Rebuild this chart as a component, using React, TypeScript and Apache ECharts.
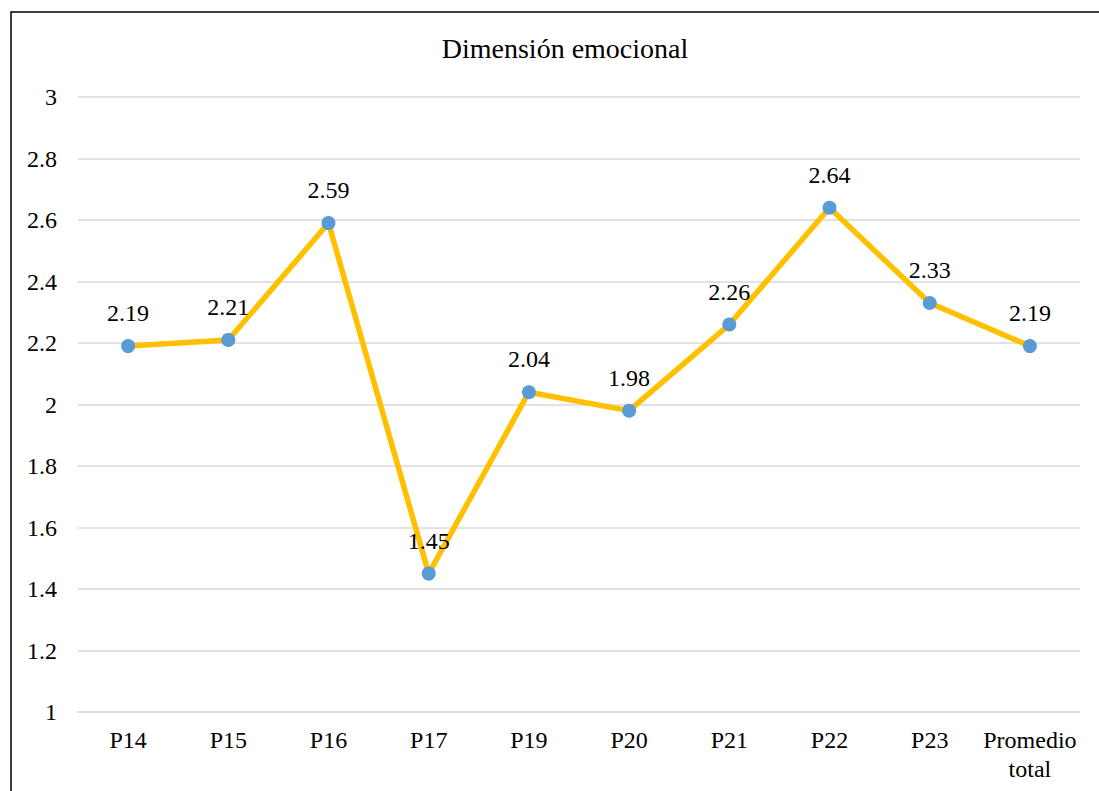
import React, { useEffect, useRef } from "react";
import * as echarts from "echarts";

const categories = ["P14", "P15", "P16", "P17", "P19", "P20", "P21", "P22", "P23", "Promedio\ntotal"];
const values = [2.19, 2.21, 2.59, 1.45, 2.04, 1.98, 2.26, 2.64, 2.33, 2.19];
const titleText = "Dimensión emocional";

export default function App() {
  const ref = useRef<HTMLDivElement>(null);
  useEffect(() => {
    if (!ref.current) return;
    const chart = echarts.init(ref.current, null, { renderer: "svg" });
    const font = "Liberation Serif";
    chart.setOption({
      animation: false,
      backgroundColor: "#ffffff",
      textStyle: { fontFamily: font },
      title: {
        text: titleText,
        left: 560,
        top: 29,
        textAlign: "center",
        textStyle: { fontFamily: font, fontSize: 28, fontWeight: "normal", color: "#000" },
      },
      graphic: [
        {
          type: "rect",
          shape: { x: 11, y: 12, width: 1100, height: 800 },
          style: { fill: "none", stroke: "#000", lineWidth: 1.5 },
          z: 100,
        },
      ],
      grid: { left: 78, right: 19, top: 97, bottom: 79, containLabel: false },
      xAxis: {
        type: "category",
        data: categories,
        boundaryGap: true,
        axisLine: { show: true, lineStyle: { color: "#D9D9D9", width: 1.5 } },
        axisTick: { show: false },
        axisLabel: {
          fontFamily: font,
          fontSize: 24,
          color: "#000",
          margin: 13,
          lineHeight: 29,
          interval: 0,
        },
      },
      yAxis: {
        type: "value",
        min: 1,
        max: 3,
        interval: 0.2,
        axisLine: { show: false },
        axisTick: { show: false },
        splitLine: { lineStyle: { color: "#D9D9D9", width: 1.5 } },
        axisLabel: {
          fontFamily: font,
          fontSize: 24,
          color: "#000",
          margin: 21,
          formatter: (v: number) => String(Math.round(v * 10) / 10),
        },
      },
      series: [
        {
          type: "line",
          data: values,
          lineStyle: { color: "#FFC000", width: 5.5 },
          itemStyle: { color: "#5B9BD5" },
          symbol: "circle",
          symbolSize: 14,
          label: {
            show: true,
            position: "top",
            distance: 14,
            fontFamily: font,
            fontSize: 24,
            color: "#000",
            formatter: (p: any) => p.value.toFixed(2),
          },
        },
      ],
    });
    return () => chart.dispose();
  }, []);
  return (
    <div
      ref={ref}
      style={{ position: "absolute", left: 0, top: 0, width: 1099, height: 791 }}
    />
  );
}
